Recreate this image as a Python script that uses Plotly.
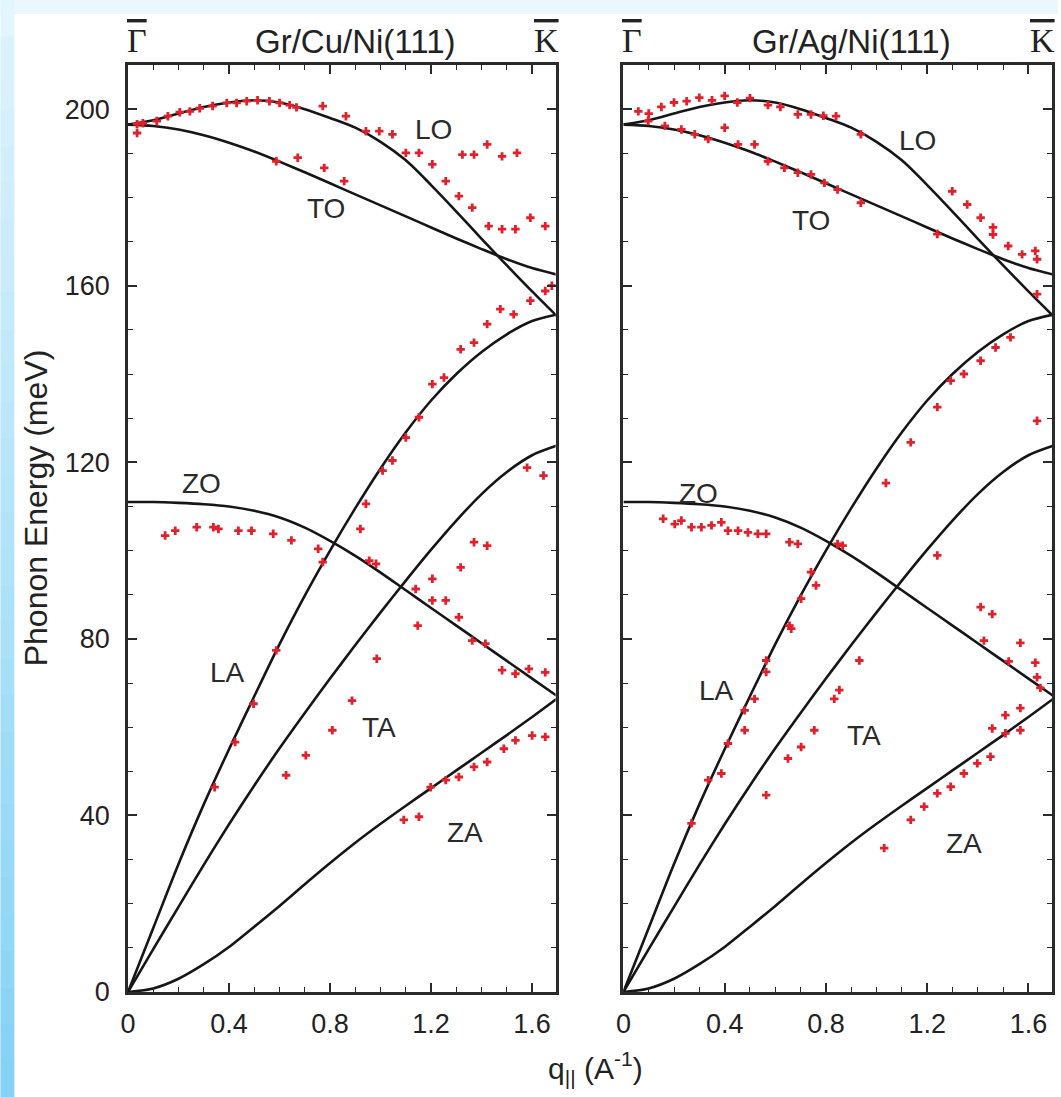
import plotly.graph_objects as go

# ---------------- data ----------------
q_grid = [0.0, 0.1, 0.2, 0.3, 0.4, 0.5, 0.6, 0.7, 0.8, 0.9, 1.0, 1.1, 1.2, 1.3, 1.4, 1.5, 1.6, 1.7]
LO_curve = [196.5, 197.5, 199, 200.5, 201.5, 202, 201.5, 200, 198, 195.8, 192.6, 188.4, 182.8, 176.8, 170.6, 164.6, 158.7, 153]
TO_curve = [196.5, 196.2, 195.4, 194.1, 192.4, 190.4, 188.1, 185.7, 183.2, 180.7, 178.2, 175.7, 173.2, 170.7, 168.3, 166, 164, 162.5]
LA_curve = [0, 14.5, 29, 42.5, 55, 67, 78.8, 89.8, 100, 109.6, 118.6, 126.8, 134, 140, 145, 149, 152, 153.5]
TA_curve = [0, 9.7, 19.3, 28.8, 38, 46.8, 55.2, 63.2, 71, 78.6, 86, 93.2, 100.2, 106.8, 112.8, 117.8, 121.6, 123.8]
ZO_curve = [111, 111, 110.8, 110.5, 110, 109, 107.5, 105.2, 102.2, 98.8, 95, 91, 87, 83, 79, 75, 71, 67]
ZA_curve = [0, 0.8, 3, 6.3, 10.2, 14.8, 19.5, 24.4, 29.2, 33.8, 38.1, 42.2, 46.2, 50.2, 54.2, 58.2, 62.3, 66.5]

# Gr/Cu/Ni(111) measured points
cu_q = [0.036, 0.059, 0.114, 0.158, 0.205, 0.245, 0.284, 0.335, 0.391, 0.43, 0.47, 0.513, 0.56, 0.6, 0.64, 0.667,
        0.036, 0.771, 0.863, 0.942, 0.995, 1.047,
        1.1, 1.152, 1.205, 1.258, 1.31, 1.363, 1.428, 1.481, 1.534, 1.593, 1.652,
        1.324, 1.37, 1.422, 1.481, 1.54,
        0.587, 0.672, 0.777, 0.856,
        0.343, 0.424, 0.497, 0.587, 0.771, 0.92, 0.942, 1.008, 1.047, 1.1, 1.152, 1.205, 1.251, 1.317, 1.37,
        1.422, 1.474, 1.527, 1.593, 1.652, 1.678,
        1.58, 1.645,
        0.147, 0.187, 0.272, 0.338, 0.358, 0.437, 0.489, 0.575, 0.647, 0.753,
        0.955, 0.982, 1.139, 1.205, 1.258, 1.31, 1.363, 1.415, 1.481, 1.534, 1.587, 1.652,
        1.205, 1.317, 1.37, 1.422,
        0.626, 0.704, 0.809, 0.887, 0.985, 1.147,
        1.092, 1.152, 1.198, 1.258, 1.31, 1.37, 1.422, 1.488, 1.534, 1.6, 1.652]
cu_E = [196.6, 196.8, 197.3, 198.4, 199.3, 199.5, 200.2, 200.7, 201.4, 201.4, 201.8, 202, 201.8, 201.4, 200.9, 200.4,
        194.6, 200.7, 198.4, 195, 195, 194.3,
        190.1, 190.1, 187.5, 183.7, 180.3, 177.7, 173.5, 172.8, 172.8, 175.4, 173.5,
        189.7, 189.7, 192, 189.3, 190.1,
        188.2, 189, 186.7, 183.7,
        46.4, 56.6, 65.3, 77.4, 97.4, 104.9, 110.6, 118.1, 120.4, 125.6, 130.2, 137.7, 139.2, 145.6, 147.1,
        151.3, 154.7, 153.5, 156.6, 158.8, 160,
        118.8, 117,
        103.4, 104.5, 105.3, 105.3, 104.9, 104.5, 104.5, 103.8, 102.3, 100.4,
        97.7, 97, 91.3, 88.7, 88.7, 84.9, 79.6, 78.9, 72.9, 72.1, 73.2, 72.4,
        93.6, 96.2, 101.9, 101.1,
        49.1, 53.6, 59.3, 66, 75.5, 83,
        39, 39.7, 46.4, 48, 48.7, 51, 52.1, 55.1, 57, 58.1, 57.8]

# Gr/Ag/Ni(111) measured points
ag_q = [0.059, 0.1, 0.15, 0.2, 0.25, 0.3, 0.35, 0.4, 0.45, 0.5, 0.571, 0.62, 0.689, 0.741, 0.79, 0.84, 0.938,
        0.098, 0.164, 0.229, 0.282, 0.335, 0.4, 0.453, 0.518, 0.571, 0.636, 0.689, 0.741, 0.794, 0.846, 0.938, 1.24,
        1.299, 1.358, 1.411, 1.46, 1.46, 1.52, 1.575, 1.627, 1.634,
        1.634, 1.529, 1.47, 1.411, 1.345, 1.293, 1.24, 1.135, 1.037, 1.634,
        0.846, 0.741, 0.761, 0.702, 0.656, 0.663, 0.564, 0.564, 0.518, 0.479, 0.479, 0.413, 0.387, 0.335, 0.269,
        0.157, 0.203, 0.229, 0.269, 0.308, 0.348, 0.387, 0.413, 0.453, 0.492, 0.531, 0.564, 0.656, 0.689, 0.866,
        1.24, 1.411, 1.457, 1.424, 1.522, 1.568, 1.627, 1.634, 1.647,
        1.568, 1.509, 1.457, 1.509, 1.568,
        1.45, 1.398, 1.345, 1.293, 1.24, 1.188, 1.135, 1.03,
        0.932, 0.853, 0.833, 0.754, 0.702, 0.65, 0.564]
ag_E = [199.5, 199, 200.5, 201.5, 201.8, 202.6, 202, 203, 201.5, 202.5, 200.9, 200.5, 198.8, 198.8, 198.5, 198.4, 194.3,
        197.3, 196.2, 195.4, 194.3, 193.2, 195.8, 192, 192, 188.2, 186.7, 185.6, 185.2, 183.3, 181.8, 178.8, 171.7,
        181.4, 178.4, 175.4, 173.2, 171.6, 169, 167.1, 167.9, 166,
        158.1, 148.3, 146, 143, 140, 138.5, 132.5, 124.5, 115.3, 129.4,
        101.5, 95.1, 92.1, 89.1, 83, 82.3, 75.1, 72.5, 66.4, 63.8, 59.3, 56.3, 49.5, 48, 38.2,
        107.2, 106, 106.8, 105.3, 105.3, 105.7, 106.4, 104.5, 104.5, 104.1, 103.8, 103.8, 101.9, 101.5, 101.1,
        98.9, 87.2, 85.6, 79.6, 74.9, 79.1, 74.6, 71.3, 68.9,
        64.3, 62.7, 59.7, 58.6, 59.3,
        53.3, 51.8, 49.5, 46.5, 45, 42, 39, 32.6,
        75.1, 68.4, 66.4, 59.3, 55.5, 52.9, 44.6]

branch_names = ["LO", "TO", "ZO", "LA", "TA", "ZA"]
cu_label_q = [1.21, 0.785, 0.29, 0.395, 0.995, 1.334]
cu_label_E = [195.5, 177.4, 115.2, 72.4, 60.0, 36.2]
ag_label_q = [1.161, 0.74, 0.295, 0.366, 0.949, 1.346]
ag_label_E = [192.8, 174.7, 112.9, 68.3, 58.1, 33.7]

panel_titles = ["Gr/Cu/Ni(111)", "Gr/Ag/Ni(111)"]
x_ticks = [0, 0.4, 0.8, 1.2, 1.6]
x_tick_text = ["0", "0.4", "0.8", "1.2", "1.6"]
y_ticks = [0, 40, 80, 120, 160, 200]

# ---------------- figure ----------------
W, H = 1061, 1097
L, R, T, B = 128, 6, 65, 105
PW = W - L - R
PH = H - T - B

def px(xp):
    return (xp - L) / PW

def py(yp):
    return (H - B - yp) / PH

fig = go.Figure()
curves = [LO_curve, TO_curve, LA_curve, TA_curve, ZO_curve, ZA_curve]
for xa, ya in [("x", "y"), ("x2", "y2")]:
    for c in curves:
        fig.add_trace(go.Scatter(x=q_grid, y=c, mode="lines", xaxis=xa, yaxis=ya,
                                 line=dict(color="#161616", width=2.6, shape="spline", smoothing=0.8),
                                 showlegend=False, hoverinfo="skip"))

fig.add_trace(go.Scatter(x=cu_q, y=cu_E, mode="markers", xaxis="x", yaxis="y",
                         marker=dict(symbol="cross", size=7, color="#e2202c"), showlegend=False))
fig.add_trace(go.Scatter(x=ag_q, y=ag_E, mode="markers", xaxis="x2", yaxis="y2",
                         marker=dict(symbol="cross", size=7, color="#e2202c"), showlegend=False))

axis_common = dict(showline=True, linecolor="#2a2a2a", linewidth=2.5, mirror="ticks",
                   ticks="inside", ticklen=9, tickwidth=1.6, tickcolor="#2a2a2a",
                   showgrid=False, zeroline=False,
                   tickfont=dict(family="Liberation Sans, Arial", size=27, color="#222"))

xcommon = dict(axis_common, range=[0, 1.693], tickvals=x_ticks, ticktext=x_tick_text,
               minor=dict(dtick=0.1, tick0=0, ticklen=5, ticks="inside", tickcolor="#2a2a2a", tickwidth=1.4),
               ticklabelstandoff=6)
ycommon = dict(axis_common, range=[0, 210], tickvals=y_ticks,
               minor=dict(dtick=10, tick0=0, ticklen=5, ticks="inside", tickcolor="#2a2a2a", tickwidth=1.4))

fig.update_layout(
    width=W, height=H,
    margin=dict(l=L, r=R, t=T, b=B),
    paper_bgcolor="white", plot_bgcolor="white",
    xaxis=dict(xcommon, domain=[0, px(557)], anchor="y"),
    yaxis=dict(ycommon, domain=[0, 1], anchor="x", ticklabelstandoff=10),
    xaxis2=dict(xcommon, domain=[px(625), 1], anchor="y2"),
    yaxis2=dict(ycommon, domain=[0, 1], anchor="x2", showticklabels=False),
)

# background decoration: light top band + left gradient strip
shapes = []
shapes.append(dict(type="rect", xref="paper", yref="paper", x0=px(0), x1=px(W), y0=py(14), y1=py(0),
                   fillcolor="#eaf7fd", line=dict(width=0), layer="below"))
n = 30
c0 = (222, 243, 253)
c1 = (133, 210, 245)
for i in range(n):
    y_top = 0 + i * H / n
    y_bot = (i + 1) * H / n
    t = i / (n - 1)
    col = "rgb(%d,%d,%d)" % tuple(round(c0[k] + (c1[k] - c0[k]) * t) for k in range(3))
    if i == 0:
        col = "#e3f5fd"
    shapes.append(dict(type="rect", xref="paper", yref="paper", x0=px(0), x1=px(14),
                       y0=py(y_bot + 0.5), y1=py(y_top), fillcolor=col, line=dict(width=0), layer="below"))
fig.update_layout(shapes=shapes)

ann = []
lab_font = dict(family="Liberation Sans, Arial", size=28, color="#2a2a2a")
for xr, lq, lE in [("x", cu_label_q, cu_label_E), ("x2", ag_label_q, ag_label_E)]:
    yr = "y" if xr == "x" else "y2"
    for name, qq, ee in zip(branch_names, lq, lE):
        ann.append(dict(x=qq, y=ee, xref=xr, yref=yr, text=name, showarrow=False, font=lab_font,
                        xanchor="center", yanchor="middle"))

title_font = dict(family="Liberation Sans, Arial", size=33, color="#222")
sym_font = dict(family="Liberation Serif, Times New Roman", size=34, color="#222")
for xr, title in [("x", panel_titles[0]), ("x2", panel_titles[1])]:
    ann.append(dict(x=0.9, y=py(41), xref=xr, yref="paper", text=title, showarrow=False, font=title_font,
                    xanchor="center", yanchor="middle"))
    ann.append(dict(x=0.035, y=py(40), xref=xr, yref="paper",
                    text='<span style="text-decoration:overline">Γ</span>', showarrow=False, font=sym_font,
                    xanchor="center", yanchor="middle"))
    ann.append(dict(x=1.655, y=py(40), xref=xr, yref="paper",
                    text='<span style="text-decoration:overline">K</span>', showarrow=False, font=sym_font,
                    xanchor="center", yanchor="middle"))

ann.append(dict(x=px(36), y=py(508), xref="paper", yref="paper", text="Phonon Energy (meV)",
                textangle=-90, showarrow=False, xanchor="center", yanchor="middle",
                font=dict(family="Liberation Sans, Arial", size=32, color="#222")))
ann.append(dict(x=px(597), y=py(1068), xref="paper", yref="paper", text="q<sub>||</sub> (A<sup>-1</sup>)",
                showarrow=False, xanchor="center", yanchor="middle",
                font=dict(family="Liberation Sans, Arial", size=30, color="#222")))
fig.update_layout(annotations=ann)

fig.write_html("out.html")
